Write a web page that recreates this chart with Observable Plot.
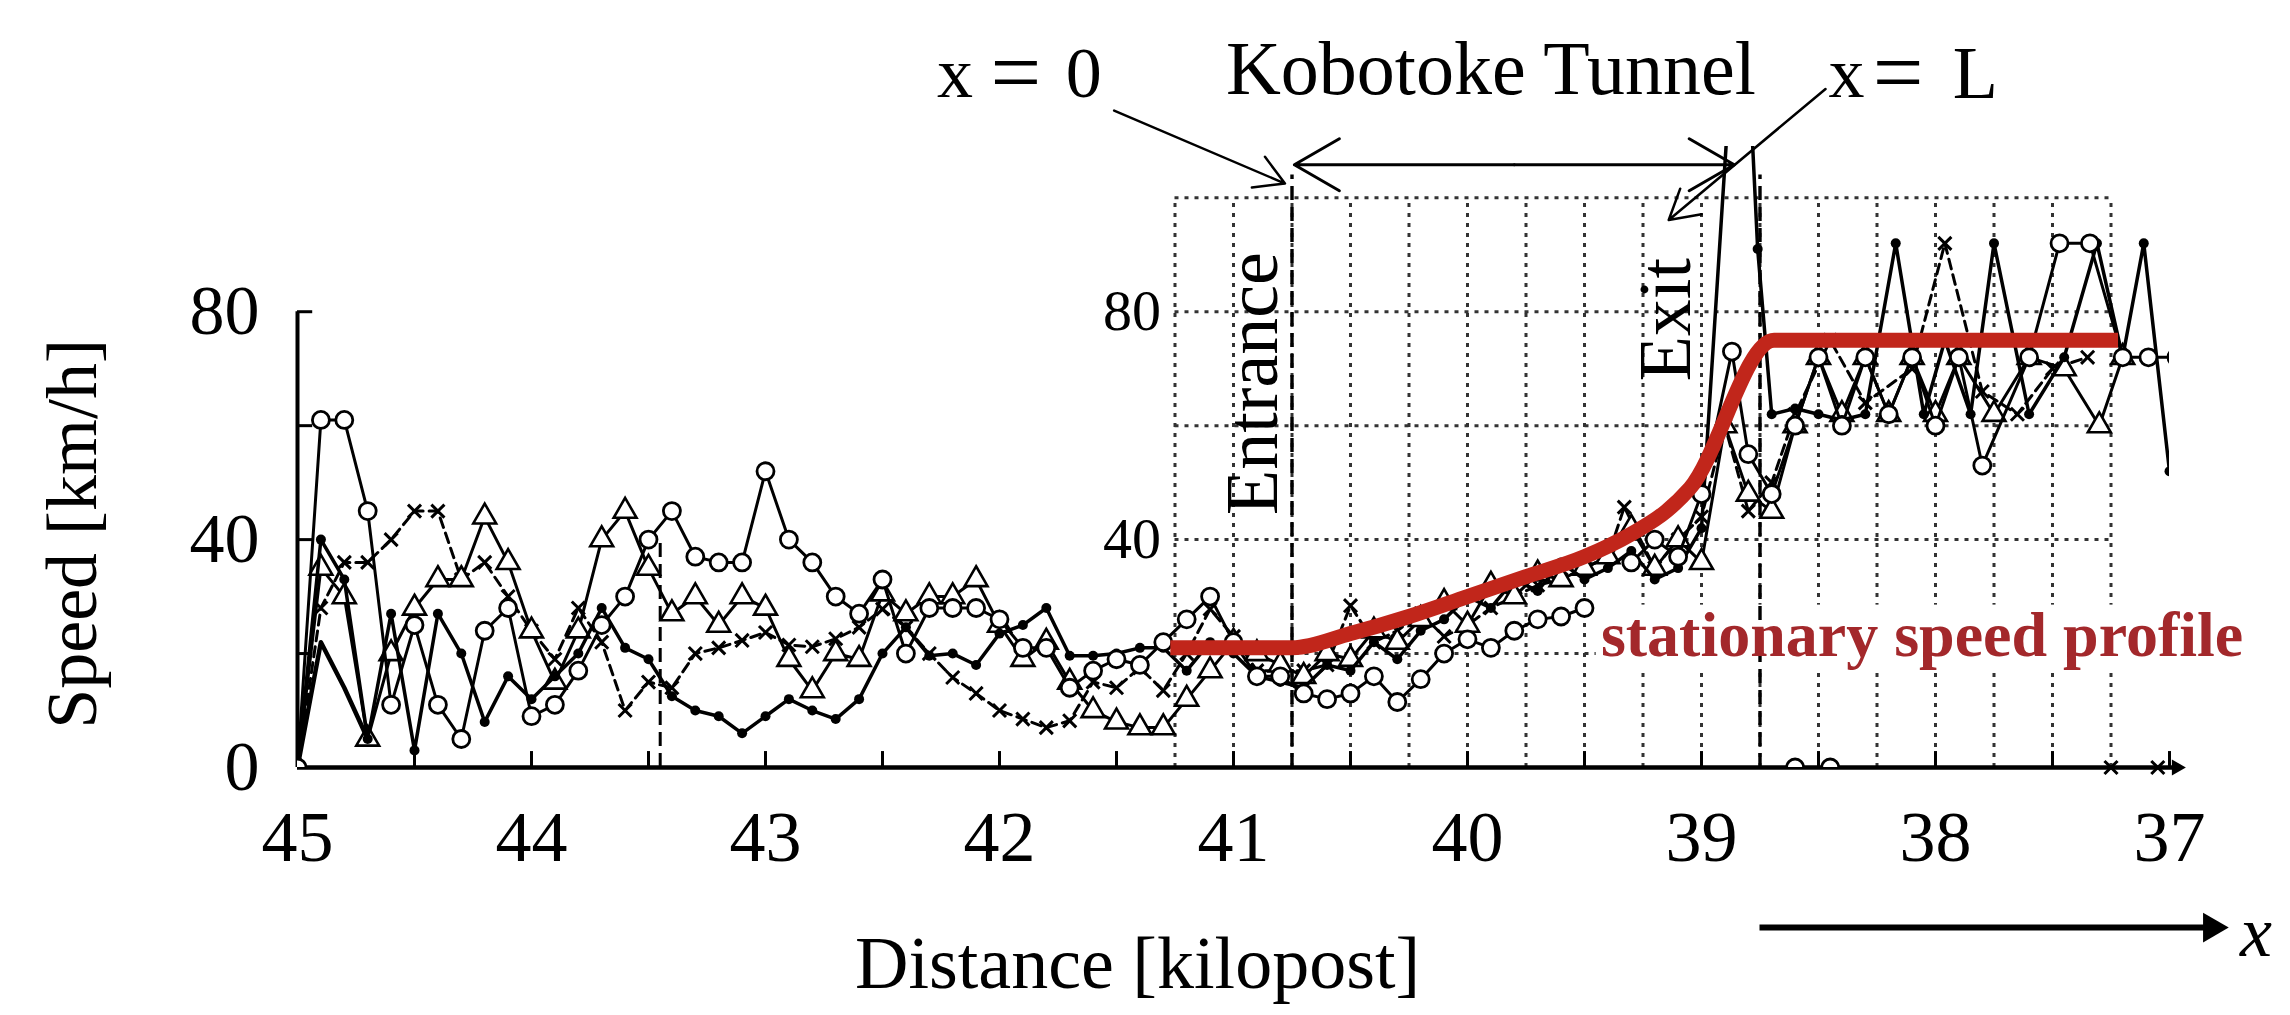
<!DOCTYPE html>
<html><head><meta charset="utf-8">
<script src="https://cdn.jsdelivr.net/npm/d3@7"></script>
<script src="https://cdn.jsdelivr.net/npm/@observablehq/plot@0.6"></script>
<style>html,body{margin:0;padding:0;background:#fff;}</style>
</head><body><div id="chart"></div>
<script>
// ---------- scales / ticks ----------
const xDomain = [45, 37];
const yDomain = [0, 109];
const kmTickLabels = [45, 44, 43, 42, 41, 40, 39, 38, 37];
const kmTickMarks = [45, 44.5, 44, 43.5, 43, 42.5, 42, 41.5, 41, 40.5, 40, 39.5, 39, 38.5, 38, 37.5, 37];
const speedTickMarks = [0, 20, 40, 60, 80];
const speedTickLabels = [0, 40, 80];
const gridKm = [41.25, 41, 40.75, 40.5, 40.25, 40, 39.75, 39.5, 39.25, 39, 38.75, 38.5, 38.25, 38, 37.75, 37.5, 37.25];
const gridSpeed = [20, 40, 60, 80, 100];
const insetLabels = [80, 40];
const tunnelLines = [40.75, 38.75];
const extraDashedKm = [43.45];

// ---------- series (km, speed) ----------
const seriesCircles = [[45.0,0],[44.9,61],[44.8,61],[44.7,45],[44.6,11],[44.5,25],[44.4,11],[44.3,5],[44.2,24],[44.1,28],[44.0,9],[43.9,11],[43.8,17],[43.7,25],[43.6,30],[43.5,40],[43.4,45],[43.3,37],[43.2,36],[43.1,36],[43.0,52],[42.9,40],[42.8,36],[42.7,30],[42.6,27],[42.5,33],[42.4,20],[42.3,28],[42.2,28],[42.1,28],[42.0,26],[41.9,21],[41.8,21],[41.7,14],[41.6,17],[41.5,19],[41.4,18],[41.3,22],[41.2,26],[41.1,30],[41.0,22],[40.9,16],[40.8,16],[40.7,13],[40.6,12],[40.5,13],[40.4,16],[40.3,11.5],[40.2,15.5],[40.1,20],[40.0,22.5],[39.9,21],[39.8,24],[39.7,26],[39.6,26.5],[39.5,28]];
const seriesCircles2 = [[39.3,36],[39.2,40],[39.1,37],[39.0,48],[38.87,73],[38.8,55],[38.7,48],[38.6,60],[38.5,72],[38.4,60],[38.3,72],[38.2,62],[38.1,72],[38.0,60],[37.9,72],[37.8,53],[37.6,72],[37.47,92],[37.34,92],[37.2,72],[37.09,72],[36.97,72]];
const seriesTriangles = [[45.0,0],[44.9,35],[44.8,30],[44.7,5],[44.6,20],[44.5,28],[44.4,33],[44.3,33],[44.2,44],[44.1,36],[44.0,24],[43.9,15],[43.8,24],[43.7,40],[43.6,45],[43.5,35],[43.4,27],[43.3,30],[43.2,25],[43.1,30],[43.0,28],[42.9,19],[42.8,13.5],[42.7,20],[42.6,19],[42.5,30.5],[42.4,27],[42.3,30],[42.2,30],[42.1,33],[42.0,25],[41.9,19],[41.8,22],[41.7,15],[41.6,10],[41.5,8],[41.4,7],[41.3,7],[41.2,12],[41.1,17],[41.0,22],[40.9,20],[40.8,18],[40.7,16],[40.6,20],[40.5,19],[40.4,24],[40.3,22],[40.2,26],[40.1,29],[40.0,25],[39.9,32],[39.8,30],[39.7,34],[39.6,33],[39.5,35],[39.4,37],[39.3,42],[39.2,35],[39.1,40],[39.0,36],[38.9,60],[38.8,48],[38.7,45],[38.6,60],[38.5,72],[38.4,62],[38.3,72],[38.2,62],[38.1,72],[38.0,62],[37.9,72],[37.75,62],[37.6,72],[37.45,70],[37.3,60],[37.2,72]];
const seriesDots = [[45.0,0],[44.9,40],[44.8,33],[44.7,5],[44.6,27],[44.5,3],[44.4,27],[44.3,20],[44.2,8],[44.1,16],[44.0,12],[43.9,16],[43.8,20],[43.7,28],[43.6,21],[43.5,19],[43.4,12.5],[43.3,10],[43.2,9],[43.1,6],[43.0,9],[42.9,12],[42.8,10],[42.7,8.5],[42.6,12],[42.5,20],[42.4,24.6],[42.3,19.6],[42.2,20],[42.1,18],[42.0,23.5],[41.9,25],[41.8,28],[41.7,19.6],[41.6,19.6],[41.5,20],[41.4,21],[41.3,21],[41.2,17],[41.1,22],[41.0,20],[40.9,16],[40.8,15],[40.7,14],[40.6,18],[40.5,17],[40.4,22],[40.3,19],[40.2,24],[40.1,26],[40.0,30],[39.9,28],[39.8,33],[39.7,31],[39.6,36],[39.5,33],[39.4,35],[39.3,38],[39.2,33],[39.1,35],[39.0,42],[38.87,125],[38.8,125],[38.76,91],[38.7,62],[38.6,63],[38.5,62],[38.4,61],[38.3,62],[38.17,92],[38.05,62],[37.96,75],[37.85,62],[37.75,92],[37.6,62],[37.45,72],[37.31,92],[37.2,72],[37.11,92],[37.0,52]];
const seriesDots2 = [[45.0,0],[44.9,22],[44.8,14],[44.7,5]];
const seriesCrosses = [[45.0,0],[44.9,28],[44.8,36],[44.7,36],[44.6,40],[44.5,45],[44.4,45],[44.3,33],[44.2,36],[44.1,30],[44.0,24],[43.9,19],[43.8,28],[43.7,22],[43.6,10],[43.5,15],[43.4,14],[43.3,20],[43.2,21],[43.1,22.3],[43.0,23.7],[42.9,21.5],[42.8,21.2],[42.7,22.6],[42.6,24.6],[42.5,27.8],[42.4,24.6],[42.3,20],[42.2,15.8],[42.1,13],[42.0,10],[41.9,8.5],[41.8,7],[41.7,8.2],[41.6,15],[41.5,14],[41.4,17.5],[41.3,13.5],[41.2,20],[41.1,27.8],[41.0,23],[40.9,17],[40.8,17],[40.7,17],[40.6,18],[40.5,28.4],[40.4,22],[40.3,24],[40.2,27],[40.1,23],[40.0,25],[39.9,28],[39.8,30],[39.7,32],[39.6,33],[39.5,35],[39.4,37],[39.33,45.7],[39.2,35],[39.1,40],[39.0,44],[38.9,60],[38.8,45],[38.7,50],[38.6,62],[38.45,75],[38.3,64],[38.1,70],[37.96,92],[37.8,66],[37.65,62],[37.5,70],[37.35,72]];
const zeroCircles = [[38.6,0],[38.45,0]];
const zeroCrosses = [[37.25,0],[37.05,0]];
const stationaryProfile = [[41.27,21],[40.75,21],[40.5,23.5],[40.25,26.5],[40.0,30],[39.75,33.5],[39.5,37],[39.3,41],[39.15,45],[39.05,49],[38.69,75],[37.22,75]];

// ---------- annotation anchors (data units) ----------
const labelBox = [{x1: 39.45, x2: 36.9, y1: 17, y2: 28.5}];
const profileLabel = [{km: 39.43, v: 23.2, text: "stationary speed profile"}];
const tunnelTitle = [{km: 39.90, v: 122.5, text: "Kobotoke Tunnel"}];
const x0Parts = [{km: 42.19, v: 121.7, text: "x", it: true, size: 72}, {km: 41.93, v: 121.7, text: "=", it: false, size: 90}, {km: 41.64, v: 121.7, text: "0", it: false, size: 72}];
const xLParts = [{km: 38.38, v: 121.7, text: "x", it: true, size: 72}, {km: 38.16, v: 121.7, text: "=", it: false, size: 90}, {km: 37.83, v: 121.7, text: "L", it: true, size: 74}];
const pointerArrows = [{x1: 41.51, y1: 115.3, x2: 40.78, y2: 102.5}, {x1: 38.47, y1: 119.1, x2: 39.14, y2: 96.1}];
const tunnelSpan = [{x1: 39.8, x2: 40.74, y: 105.8}, {x1: 39.8, x2: 38.86, y: 105.8}];
const entranceLabel = [{km: 40.915, v: 67.4, text: "Entrance"}];
const exitLabel = [{km: 39.15, v: 78.6, text: "Exit"}];
const xDirLine = [{x1: 38.75, x2: 36.85, y: -28.1}];
const xDirHead = [{km: 36.82, v: -28.1}];
const axisHead = [{km: 36.97, v: 0}];
const xDirLabel = [{km: 36.63, v: -29, text: "x"}];
const speedTitle = [{km: 45.96, v: 41, text: "Speed [km/h]"}];
const distTitle = [{km: 41.41, v: -34.6, text: "Distance [kilopost]"}];

const rows = a => a.map(([km, v]) => ({km, v}));
const lineOpts = {x: "km", y: "v", stroke: "black", strokeWidth: 3, clip: true};
const gridStyle = {stroke: "#333", strokeWidth: 3, strokeDasharray: "4,6"};

const chart = Plot.plot({
  width: 2290, height: 1015,
  marginLeft: 297, marginRight: 121, marginTop: 146, marginBottom: 248,
  x: {domain: xDomain, axis: null},
  y: {domain: yDomain, axis: null},
  style: {fontFamily: "'Liberation Serif', 'Times New Roman', serif", background: "white", color: "black", fontSize: "72px"},
  marks: [
    // tunnel grid
    Plot.ruleX(gridKm, {x: d => d, y1: 0, y2: 100, ...gridStyle}),
    Plot.ruleY(gridSpeed, {y: d => d, x1: gridKm[0], x2: gridKm[gridKm.length - 1], ...gridStyle}),
    Plot.rect(labelBox, {x1: "x1", x2: "x2", y1: "y1", y2: "y2", fill: "white"}),
    // entrance / exit dashed
    Plot.ruleX(tunnelLines, {x: d => d, y1: 0, y2: 104, stroke: "black", strokeWidth: 3.4, strokeDasharray: "14,7"}),
    Plot.ruleX(extraDashedKm, {x: d => d, y1: 0, y2: 40, stroke: "black", strokeWidth: 3, strokeDasharray: "14,7"}),
    // axes
    Plot.ruleX([xDomain[0]], {x: d => d, y1: 0, y2: 80, stroke: "black", strokeWidth: 4}),
    Plot.ruleY(speedTickMarks, {y: d => d, x1: xDomain[0], x2: xDomain[0] - 0.065, stroke: "black", strokeWidth: 3}),
    Plot.ruleY([0], {x1: xDomain[0], x2: 36.98, stroke: "black", strokeWidth: 4.5}),
    Plot.dot(axisHead, {x: "km", y: "v", symbol: "triangle", rotate: 90, r: 6, fill: "black"}),
    Plot.ruleX(kmTickMarks, {x: d => d, y1: 0, y2: 2.8, stroke: "black", strokeWidth: 3}),
    Plot.text(kmTickLabels, {x: d => d, y: 0, text: d => String(d), dy: 70, fontSize: 72}),
    Plot.text(speedTickLabels, {x: xDomain[0], y: d => d, text: d => String(d), dx: -38, textAnchor: "end", fontSize: 70}),
    Plot.text(insetLabels, {x: 41.31, y: d => d, text: d => String(d), textAnchor: "end", fontSize: 58}),
    // series
    Plot.line(rows(seriesCrosses), {...lineOpts, strokeDasharray: "10,6"}),
    Plot.dot(rows(seriesCrosses), {x: "km", y: "v", symbol: "times", r: 6, stroke: "black", strokeWidth: 3, clip: true}),
    Plot.line(rows(seriesTriangles), lineOpts),
    Plot.dot(rows(seriesTriangles), {x: "km", y: "v", symbol: "triangle", r: 8.5, fill: "white", stroke: "black", strokeWidth: 2.6, clip: true}),
    Plot.line(rows(seriesDots2), {...lineOpts, strokeWidth: 4.5}),
    Plot.line(rows(seriesDots), {...lineOpts, strokeWidth: 3.5}),
    Plot.dot(rows(seriesDots), {x: "km", y: "v", r: 5, fill: "black", clip: true}),
    Plot.line(rows(seriesCircles), lineOpts),
    Plot.dot(rows(seriesCircles), {x: "km", y: "v", r: 8.5, fill: "white", stroke: "black", strokeWidth: 2.8, clip: true}),
    Plot.line(rows(seriesCircles2), lineOpts),
    Plot.dot(rows(seriesCircles2), {x: "km", y: "v", r: 8.5, fill: "white", stroke: "black", strokeWidth: 2.8, clip: true}),
    Plot.line(rows(zeroCircles), lineOpts),
    Plot.dot(rows(zeroCircles), {x: "km", y: "v", r: 8.5, fill: "white", stroke: "black", strokeWidth: 2.8, clip: true}),
    Plot.dot(rows(zeroCrosses), {x: "km", y: "v", symbol: "times", r: 6, stroke: "black", strokeWidth: 3}),
    // stationary speed profile
    Plot.line(rows(stationaryProfile), {x: "km", y: "v", stroke: "#c1261b", strokeWidth: 15, curve: "monotone-x", strokeLinecap: "butt"}),
    Plot.text(profileLabel, {x: "km", y: "v", text: "text", textAnchor: "start", fontWeight: "bold", fontSize: 64, fill: "#a3282b"}),
    // annotations
    Plot.text(tunnelTitle, {x: "km", y: "v", text: "text", fontSize: 76}),
    Plot.text(x0Parts, {x: "km", y: "v", text: "text", fontSize: d => d.size, fontStyle: d => d.it ? "italic" : "normal"}),
    Plot.text(xLParts, {x: "km", y: "v", text: "text", fontSize: d => d.size, fontStyle: d => d.it ? "italic" : "normal"}),
    Plot.arrow(pointerArrows, {x1: "x1", y1: "y1", x2: "x2", y2: "y2", stroke: "black", strokeWidth: 2.5, headLength: 20}),
    Plot.arrow(tunnelSpan, {x1: "x1", x2: "x2", y1: "y", y2: "y", stroke: "black", strokeWidth: 3, headLength: 26}),
    Plot.text(entranceLabel, {x: "km", y: "v", text: "text", rotate: -90, fontSize: 74}),
    Plot.text(exitLabel, {x: "km", y: "v", text: "text", rotate: -90, fontSize: 74}),
    Plot.ruleY(xDirLine, {x1: "x1", x2: "x2", y: "y", stroke: "black", strokeWidth: 6}),
    Plot.dot(xDirHead, {x: "km", y: "v", symbol: "triangle", rotate: 90, r: 11, fill: "black"}),
    Plot.text(xDirLabel, {x: "km", y: "v", text: "text", fontStyle: "italic", fontSize: 72}),
    Plot.text(speedTitle, {x: "km", y: "v", text: "text", rotate: -90, fontSize: 72}),
    Plot.text(distTitle, {x: "km", y: "v", text: "text", fontSize: 74})
  ]
});
document.getElementById("chart").appendChild(chart);
</script>
</body></html>
